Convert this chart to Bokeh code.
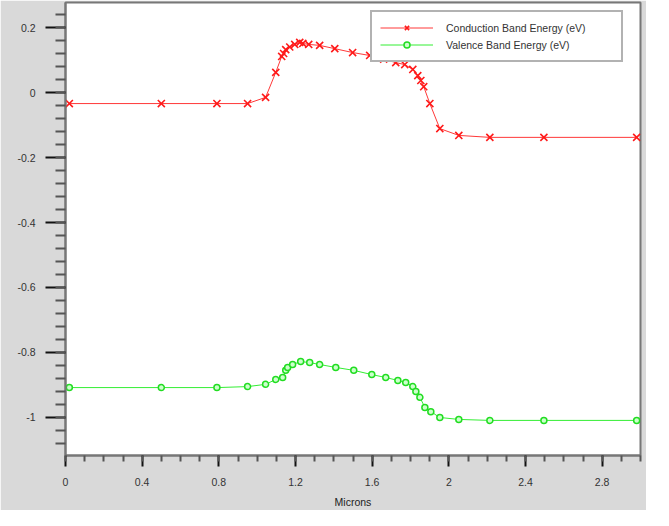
import numpy as np
from bokeh.plotting import figure
from bokeh.models import FixedTicker, Legend, LegendItem, Range1d
from bokeh.embed import file_html
from bokeh.resources import INLINE

# ---- data ----
x_cond = [0.02, 0.5, 0.79, 0.95, 1.044, 1.097, 1.128, 1.138, 1.149, 1.17, 1.196, 1.222,
          1.238, 1.269, 1.326, 1.405, 1.498, 1.587, 1.66, 1.723, 1.77, 1.812, 1.838,
          1.854, 1.869, 1.901, 1.953, 2.052, 2.214, 2.496, 2.98]
y_cond = [-0.034, -0.034, -0.034, -0.034, -0.015, 0.062, 0.111, 0.12, 0.132, 0.14, 0.148,
          0.154, 0.151, 0.148, 0.145, 0.135, 0.123, 0.114, 0.103, 0.092, 0.086, 0.071,
          0.052, 0.037, 0.018, -0.034, -0.111, -0.132, -0.138, -0.138, -0.138]

x_val = [0.02, 0.5, 0.79, 0.95, 1.044, 1.097, 1.133, 1.149, 1.159, 1.185, 1.227, 1.274,
         1.326, 1.41, 1.504, 1.598, 1.671, 1.734, 1.775, 1.812, 1.828, 1.849, 1.875,
         1.906, 1.953, 2.052, 2.214, 2.496, 2.98]
y_val = [-0.908, -0.908, -0.908, -0.905, -0.898, -0.883, -0.877, -0.855, -0.846, -0.837,
         -0.828, -0.831, -0.837, -0.846, -0.855, -0.868, -0.877, -0.886, -0.892, -0.905,
         -0.92, -0.938, -0.969, -0.982, -1.0, -1.006, -1.009, -1.009, -1.009]

series_names = ["Conduction Band Energy (eV)", "Valence Band Energy (eV)"]

x_ticks = [0, 0.4, 0.8, 1.2, 1.6, 2.0, 2.4, 2.8]
x_tick_labels = ["0", "0.4", "0.8", "1.2", "1.6", "2", "2.4", "2.8"]
y_ticks = [-1.0, -0.8, -0.6, -0.4, -0.2, 0, 0.2]
y_tick_labels = ["-1", "-0.8", "-0.6", "-0.4", "-0.2", "0", "0.2"]
x_label = "Microns"

FONT = "Liberation Sans"
TXT = "#333333"

p = figure(width=646, height=510, output_backend="svg", toolbar_location=None,
           min_border_left=65, min_border_right=6, min_border_top=2, min_border_bottom=55,
           x_range=Range1d(0, 3.0), y_range=Range1d(-1.117, 0.277))

p.background_fill_color = "white"
p.border_fill_color = "#d9d9d9"
p.outline_line_color = "#777777"
p.outline_line_width = 2
p.grid.visible = False

# ticks
x_minor = [round(v, 2) for v in np.arange(0, 3.0001, 0.1)]
y_minor = [round(v, 2) for v in np.arange(-1.12, 0.2801, 0.04)]
p.xaxis.ticker = FixedTicker(ticks=x_ticks, minor_ticks=x_minor)
p.yaxis.ticker = FixedTicker(ticks=y_ticks, minor_ticks=y_minor)
p.xaxis.major_label_overrides = {t: l for t, l in zip(x_ticks, x_tick_labels)}
p.yaxis.major_label_overrides = {t: l for t, l in zip(y_ticks, y_tick_labels)}

for ax in (p.xaxis[0], p.yaxis[0]):
    ax.axis_line_color = "#777777"
    ax.axis_line_width = 2
    ax.major_tick_line_color = "#111111"
    ax.major_tick_line_width = 2
    ax.minor_tick_line_color = "#555555"
    ax.minor_tick_line_width = 2
    ax.major_tick_in = 0
    ax.minor_tick_in = 0
    ax.major_label_text_font = FONT
    ax.major_label_text_font_size = "10.5px"
    ax.major_label_text_color = TXT

p.yaxis.major_tick_out = 20
p.yaxis.minor_tick_out = 10
p.yaxis.major_label_standoff = 10
p.xaxis.major_tick_out = 11
p.xaxis.minor_tick_out = 6
p.xaxis.major_label_standoff = 11

p.xaxis.axis_label = x_label
p.xaxis.axis_label_text_font = FONT
p.xaxis.axis_label_text_font_size = "10.5px"
p.xaxis.axis_label_text_font_style = "normal"
p.xaxis.axis_label_text_color = "#222222"
p.xaxis.axis_label_standoff = 7

# series
l1 = p.line(x_cond, y_cond, line_color="#ff3838", line_width=1)
s1 = p.scatter(x_cond, y_cond, marker="x", size=10, line_color="#ff1a1a", line_width=1.6)
l2 = p.line(x_val, y_val, line_color="#33ee33", line_width=1)
s2 = p.scatter(x_val, y_val, marker="circle", size=6, line_color="#22dd22",
               fill_color="#ccffcc", line_width=1.5)

legend = Legend(items=[LegendItem(label=series_names[0], renderers=[l1, s1]),
                       LegendItem(label=series_names[1], renderers=[l2, s2])],
                location=(305, 393), margin=0, padding=8, spacing=2,
                glyph_width=53, glyph_height=15, label_height=15, label_width=167,
                label_standoff=13,
                label_text_font=FONT, label_text_font_size="10.5px", label_text_color=TXT,
                border_line_color="#666666", border_line_width=2,
                background_fill_color="white", background_fill_alpha=1.0)
p.add_layout(legend)

open("out.html", "w").write(file_html(p, INLINE))
